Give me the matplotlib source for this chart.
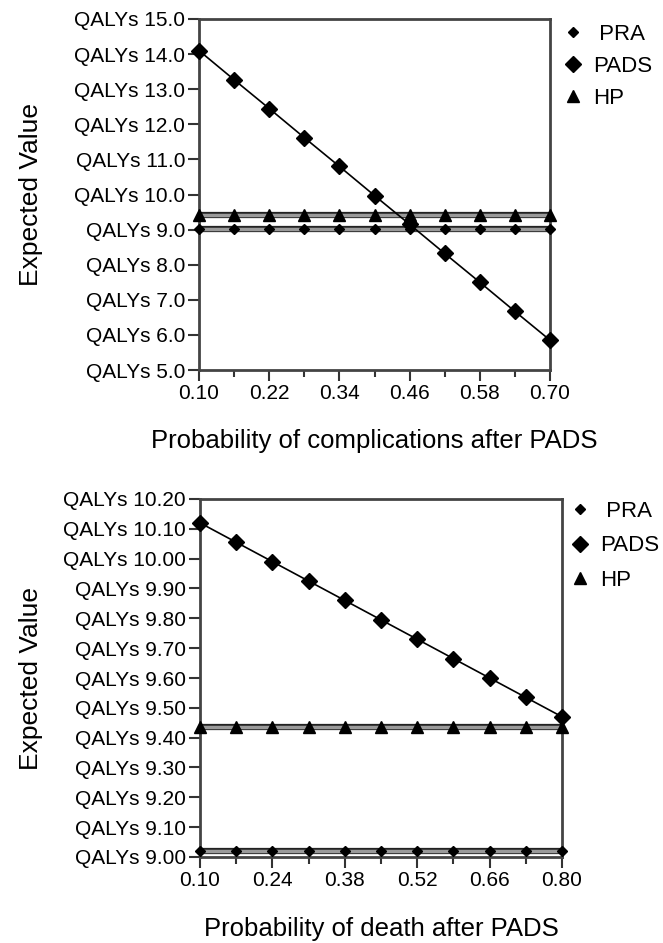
import matplotlib
matplotlib.use("Agg")
import matplotlib.pyplot as plt
import matplotlib.patheffects as pe
from matplotlib.lines import Line2D
from matplotlib.ticker import FixedLocator, MultipleLocator, FuncFormatter

plt.rcParams['font.family'] = ['Liberation Sans', 'DejaVu Sans']

# ---- data: top panel (probability of complications after PADS) ----
x_top = [0.10, 0.16, 0.22, 0.28, 0.34, 0.40, 0.46, 0.52, 0.58, 0.64, 0.70]
pra_top = [9.02, 9.02, 9.02, 9.02, 9.02, 9.02, 9.02, 9.02, 9.02, 9.02, 9.02]
pads_top = [14.10, 13.27, 12.45, 11.62, 10.80, 9.97, 9.15, 8.32, 7.50, 6.67, 5.85]
hp_top = [9.43, 9.43, 9.43, 9.43, 9.43, 9.43, 9.43, 9.43, 9.43, 9.43, 9.43]
xticks_top = [0.10, 0.22, 0.34, 0.46, 0.58, 0.70]

# ---- data: bottom panel (probability of death after PADS) ----
x_bot = [0.10, 0.17, 0.24, 0.31, 0.38, 0.45, 0.52, 0.59, 0.66, 0.73, 0.80]
pra_bot = [9.02, 9.02, 9.02, 9.02, 9.02, 9.02, 9.02, 9.02, 9.02, 9.02, 9.02]
pads_bot = [10.12, 10.055, 9.99, 9.925, 9.86, 9.795, 9.73, 9.665, 9.60, 9.535, 9.47]
hp_bot = [9.435, 9.435, 9.435, 9.435, 9.435, 9.435, 9.435, 9.435, 9.435, 9.435, 9.435]
xticks_bot = [0.10, 0.24, 0.38, 0.52, 0.66, 0.80]

series_names = [" PRA", "PADS", "HP"]
FS = 15

fig = plt.figure(figsize=(6.63, 9.43), dpi=100)
W, H = 663, 943

def add_ax(l, t, r, b):
    return fig.add_axes([l / W, 1 - b / H, (r - l) / W, (b - t) / H]), (b - t)

band = [pe.Stroke(linewidth=4.5, foreground='#222222'), pe.Normal()]

def draw(ax, hpx, x, pra, pads, hp, xlim, xticks, ylim, ymaj, yfmt, xlabel,
         xlabel_px, leg_dx, leg_top_px, leg_sp):
    ax.plot(x, pra, color='#9a9a9a', lw=2.5, path_effects=band, zorder=3)
    ax.plot(x, hp, color='#9a9a9a', lw=2.5, path_effects=band, zorder=3)
    ax.plot(x, pads, color='black', lw=1.2, zorder=4)
    ax.plot(x, pra, ls='none', marker='D', ms=5, color='black', zorder=5, clip_on=False)
    ax.plot(x, hp, ls='none', marker='^', ms=9, color='black', zorder=5, clip_on=False)
    ax.plot(x, pads, ls='none', marker='D', ms=8, color='black', zorder=6, clip_on=False)
    ax.set_xlim(*xlim)
    ax.set_ylim(*ylim)
    ax.xaxis.set_major_locator(FixedLocator(xticks))
    ax.xaxis.set_minor_locator(FixedLocator(x))
    ax.yaxis.set_major_locator(MultipleLocator(ymaj))
    ax.xaxis.set_major_formatter(FuncFormatter(lambda v, p: f"{v:.2f}"))
    ax.yaxis.set_major_formatter(FuncFormatter(lambda v, p: "QALYs " + format(v, yfmt)))
    ax.tick_params(axis='both', which='major', direction='out', length=8, width=1.5,
                   labelsize=FS, color='#333333', pad=2)
    ax.tick_params(axis='x', which='minor', direction='out', length=5, width=1.5, color='#333333')
    for s in ax.spines.values():
        s.set_linewidth(2)
        s.set_color('#444444')
    wpx = ax.get_position().width * W
    ax.set_xlabel(xlabel, fontsize=18.5)
    ax.xaxis.set_label_coords(0.5, -xlabel_px / hpx)
    ax.set_ylabel("Expected Value", fontsize=19)
    ax.yaxis.set_label_coords(-(ax.get_position().x0 * W - 43) / wpx, 0.5)
    handles = [Line2D([], [], ls='none', marker='D', ms=5, color='black'),
               Line2D([], [], ls='none', marker='D', ms=8, color='black'),
               Line2D([], [], ls='none', marker='^', ms=9, color='black')]
    ax.legend(handles, series_names, loc='upper left',
              bbox_to_anchor=(1.0 + leg_dx / wpx, 1.0 - leg_top_px / hpx),
              frameon=False, fontsize=16, handlelength=1.0, handletextpad=0.4,
              labelspacing=leg_sp, borderaxespad=0, borderpad=0)

ax1, h1 = add_ax(199, 19, 550, 370)
draw(ax1, h1, x_top, pra_top, pads_top, hp_top, (0.10, 0.70), xticks_top,
     (5.0, 15.0), 1.0, ".1f", "Probability of complications after PADS",
     59, 12, 5, 0.5)

ax2, h2 = add_ax(200, 499, 562, 857)
draw(ax2, h2, x_bot, pra_bot, pads_bot, hp_bot, (0.10, 0.80), xticks_bot,
     (9.0, 10.2), 0.1, ".2f", "Probability of death after PADS",
     60, 7, 2, 0.6)

fig.savefig("out.png", dpi=100, facecolor='white')
